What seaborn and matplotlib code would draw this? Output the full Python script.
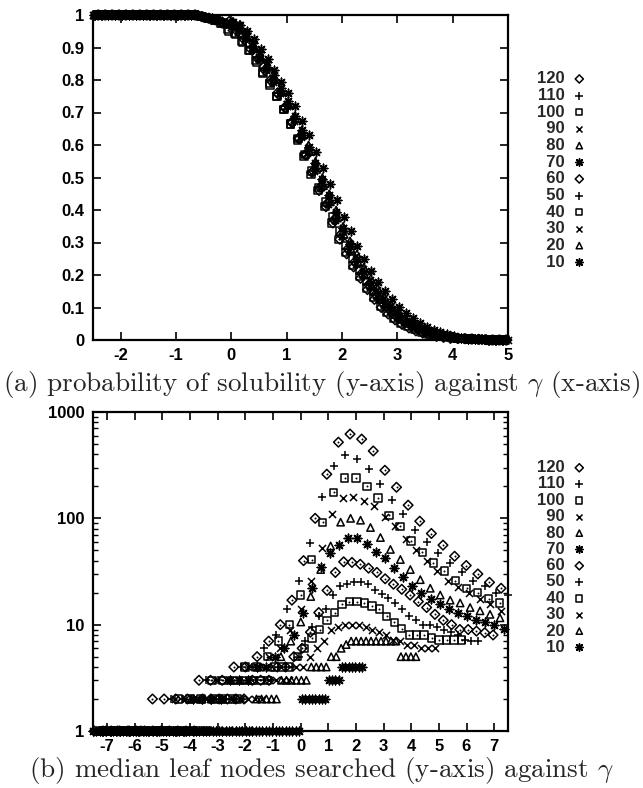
import numpy as np
import pandas as pd
import matplotlib
matplotlib.use("Agg")
import matplotlib.pyplot as plt
from matplotlib.ticker import FixedLocator, FixedFormatter, LogLocator, NullFormatter
import seaborn as sns

sns.set_style("ticks")
plt.rcParams['font.family'] = ['Liberation Sans', 'DejaVu Sans']
plt.rcParams['mathtext.fontset'] = 'cm'
plt.rcParams['axes.unicode_minus'] = False
plt.rcParams['axes.edgecolor'] = 'black'
plt.rcParams['xtick.color'] = 'black'
plt.rcParams['ytick.color'] = 'black'

# ---------------- data ----------------
sizes = [120, 110, 100, 90, 80, 70, 60, 50, 40, 30, 20, 10]
size_labels = ["120", "110", "100", "\u200790", "\u200780", "\u200770", "\u200760",
               "\u200750", "\u200740", "\u200730", "\u200720", "\u200710"]

# (a) probability of solubility; gamma grid starts at -2.5 (+ small per-series shift), step 0.125
sol_step = 0.125
sol_shift = [-0.04, 0.02, -0.06, 0.0, 0.04, 0.02, -0.02, 0.03, -0.05, 0.01, 0.02, 0.03]
sol_head = [1.0] * 16 + [0.995, 0.99, 0.985, 0.975]          # gamma -2.5 .. -0.125
sol_tail = [0.005, 0.004, 0.003, 0.002, 0.001, 0.0, 0.0, 0.0]  # gamma 4.125 .. 5.0
sol_120 = [0.98, 0.965, 0.94, 0.91, 0.875, 0.84, 0.80, 0.76, 0.715, 0.67, 0.62, 0.57, 0.515, 0.46, 0.41, 0.36, 0.31, 0.265, 0.225, 0.19, 0.155, 0.125, 0.10, 0.08, 0.062, 0.048, 0.037, 0.028, 0.021, 0.015, 0.011, 0.008, 0.005]
sol_110 = [0.975, 0.96, 0.935, 0.905, 0.87, 0.835, 0.795, 0.755, 0.715, 0.67, 0.62, 0.57, 0.52, 0.465, 0.415, 0.365, 0.315, 0.27, 0.23, 0.195, 0.16, 0.13, 0.105, 0.085, 0.066, 0.051, 0.04, 0.031, 0.023, 0.017, 0.012, 0.009, 0.006]
sol_100 = [0.955, 0.945, 0.92, 0.89, 0.86, 0.825, 0.79, 0.75, 0.71, 0.665, 0.615, 0.565, 0.51, 0.46, 0.41, 0.36, 0.31, 0.27, 0.23, 0.195, 0.16, 0.13, 0.105, 0.085, 0.066, 0.052, 0.041, 0.032, 0.024, 0.018, 0.013, 0.01, 0.007]
sol_90 = [0.97, 0.955, 0.93, 0.90, 0.87, 0.835, 0.80, 0.76, 0.72, 0.675, 0.625, 0.575, 0.52, 0.47, 0.42, 0.37, 0.32, 0.275, 0.235, 0.20, 0.165, 0.135, 0.11, 0.09, 0.07, 0.055, 0.044, 0.034, 0.026, 0.02, 0.015, 0.011, 0.008]
sol_80 = [0.975, 0.955, 0.935, 0.905, 0.87, 0.84, 0.80, 0.765, 0.725, 0.68, 0.63, 0.58, 0.525, 0.475, 0.425, 0.375, 0.325, 0.28, 0.24, 0.2, 0.165, 0.135, 0.11, 0.09, 0.071, 0.056, 0.045, 0.035, 0.027, 0.02, 0.015, 0.011, 0.008]
sol_70 = [0.98, 0.97, 0.945, 0.915, 0.885, 0.855, 0.815, 0.775, 0.735, 0.69, 0.645, 0.595, 0.545, 0.495, 0.445, 0.395, 0.345, 0.295, 0.25, 0.21, 0.175, 0.145, 0.117, 0.095, 0.076, 0.06, 0.047, 0.037, 0.028, 0.021, 0.016, 0.012, 0.009]
sol_60 = [0.97, 0.95, 0.925, 0.895, 0.865, 0.83, 0.795, 0.755, 0.715, 0.67, 0.62, 0.57, 0.52, 0.47, 0.42, 0.37, 0.325, 0.28, 0.24, 0.205, 0.17, 0.14, 0.115, 0.093, 0.074, 0.058, 0.046, 0.036, 0.028, 0.021, 0.016, 0.012, 0.009]
sol_50 = [0.965, 0.95, 0.925, 0.895, 0.86, 0.83, 0.79, 0.755, 0.715, 0.67, 0.625, 0.575, 0.525, 0.475, 0.425, 0.375, 0.33, 0.285, 0.245, 0.21, 0.175, 0.145, 0.12, 0.097, 0.078, 0.062, 0.049, 0.038, 0.03, 0.023, 0.017, 0.013, 0.009]
sol_40 = [0.95, 0.94, 0.915, 0.89, 0.855, 0.82, 0.785, 0.75, 0.71, 0.665, 0.62, 0.57, 0.52, 0.47, 0.425, 0.38, 0.335, 0.29, 0.25, 0.215, 0.18, 0.15, 0.125, 0.1, 0.08, 0.064, 0.05, 0.04, 0.031, 0.024, 0.018, 0.013, 0.01]
sol_30 = [0.965, 0.95, 0.925, 0.895, 0.865, 0.83, 0.795, 0.76, 0.72, 0.68, 0.635, 0.59, 0.54, 0.49, 0.44, 0.39, 0.345, 0.3, 0.26, 0.22, 0.185, 0.155, 0.128, 0.104, 0.084, 0.067, 0.053, 0.042, 0.032, 0.025, 0.019, 0.014, 0.01]
sol_20 = [0.97, 0.955, 0.93, 0.9, 0.87, 0.84, 0.805, 0.77, 0.73, 0.69, 0.645, 0.6, 0.55, 0.5, 0.45, 0.4, 0.35, 0.305, 0.265, 0.225, 0.19, 0.16, 0.132, 0.108, 0.088, 0.07, 0.056, 0.044, 0.034, 0.026, 0.02, 0.015, 0.011]
sol_10 = [0.98, 0.97, 0.95, 0.925, 0.895, 0.865, 0.83, 0.795, 0.76, 0.72, 0.675, 0.63, 0.58, 0.53, 0.48, 0.43, 0.38, 0.335, 0.29, 0.25, 0.213, 0.18, 0.15, 0.125, 0.102, 0.083, 0.067, 0.053, 0.041, 0.032, 0.024, 0.018, 0.013]
sol_mid = [sol_120, sol_110, sol_100, sol_90, sol_80, sol_70, sol_60, sol_50, sol_40, sol_30, sol_20, sol_10]

# (b) median leaf nodes; each series on its own gamma grid (start, step)
leaf_start = [-7.45, -7.2, -7.2, -7.21, -7.19, -7.18, -7.14, -7.07, -7.14, -7.4, -7.35, -7.5]
leaf_step = [0.42, 0.42, 0.40, 0.38, 0.36, 0.33, 0.30, 0.25, 0.27, 0.25, 0.18, 0.12]
leaf_120 = [1] * 5 + [2] * 4 + [3] * 3 + [4] * 2 + [5, 7, 10, 17, 40, 100, 260, 520, 620, 556, 430, 283, 196, 133, 94, 72, 56, 44, 36, 30, 25, 22]
leaf_110 = [1] * 6 + [2] * 3 + [3] * 3 + [4] * 2 + [6, 8, 14, 26, 59, 160, 310, 390, 360, 290, 210, 150, 110, 78, 60, 47, 38, 31, 26, 23, 20, 19]
leaf_100 = [1] * 7 + [2] * 3 + [3] * 3 + [4] * 2 + [5, 7, 10, 19, 41, 92, 176, 240, 240, 200, 155, 107, 84, 61, 48, 38, 32, 26, 22, 20, 17.6, 16]
leaf_90 = [1] * 7 + [2] * 4 + [3] * 3 + [4] * 2 + [5, 6, 9, 14, 26, 53, 109, 155, 160, 145, 130, 104, 85, 64, 50, 40, 32, 26, 22.5, 20, 17.5, 15.5, 13.3]
leaf_80 = [1] * 9 + [2] * 4 + [3] * 3 + [4] * 2 + [5, 7, 10.6, 18.4, 33, 55, 92, 100, 96, 82, 66, 51, 41, 33, 26.5, 22, 19, 17, 16, 14.5, 13.5, 12.5, 11.6]
leaf_70 = [1] * 10 + [2] * 4 + [3] * 3 + [4] * 2 + [5, 6, 8, 13, 22, 35, 47, 56, 66, 65, 57, 48, 42, 34, 28, 23, 20, 17.5, 15.5, 14, 12.8, 12, 11, 10.5, 10, 9.2]
leaf_60 = [1] * 12 + [2] * 6 + [3] * 3 + [4] * 2 + [5, 6, 8.5, 13, 21, 31, 39, 38.5, 37, 34, 31, 27, 24, 21.5, 19, 16.5, 14.5, 12.5, 11, 10, 9, 9, 8.7, 8.4, 8]
leaf_50 = [1] * 16 + [2] * 5 + [3] * 4 + [4] * 3 + [5, 7, 9.5, 12, 14, 19, 23, 24, 25, 25, 24, 21, 19.5, 18, 16, 14, 12, 11, 10, 10, 9.6, 9, 8.5, 8, 7.2, 7, 7]
leaf_40 = [1] * 15 + [2] * 4 + [3] * 4 + [4] * 3 + [5, 6, 7.5, 9, 11, 13, 15.5, 16.5, 16.5, 16, 15, 14, 12, 10.5, 9.2, 8, 8, 8, 7.5, 7.2, 7.2, 7.2, 7.2]
leaf_30 = [1] * 20 + [2] * 5 + [3] * 4 + [4, 4, 5, 6, 7, 9, 9.6, 10, 10, 10, 9.6, 9, 8.5, 8, 7.2, 7, 6.5, 6.5, 6, 6, 6]
leaf_20 = [1] * 32 + [2] * 5 + [3] * 6 + [4] * 4 + [5] * 2 + [6, 6.5] + [7] * 10 + [5] * 4
leaf_10 = [1] * 63 + [2] * 8 + [3] * 4 + [4] * 7
leaf_vals = [leaf_120, leaf_110, leaf_100, leaf_90, leaf_80, leaf_70, leaf_60, leaf_50, leaf_40, leaf_30, leaf_20, leaf_10]

sol_xticks = [-2, -1, 0, 1, 2, 3, 4, 5]
sol_yticks = [0, 0.1, 0.2, 0.3, 0.4, 0.5, 0.6, 0.7, 0.8, 0.9, 1]
sol_yticklabels = ["0", "0.1", "0.2", "0.3", "0.4", "0.5", "0.6", "0.7", "0.8", "0.9", "1"]
leaf_xticks = [-7, -6, -5, -4, -3, -2, -1, 0, 1, 2, 3, 4, 5, 6, 7]
leaf_yticks = [1, 10, 100, 1000]
leaf_yticklabels = ["1", "10", "100", "1000"]

caption_a = "(a) probability of solubility (y-axis) against $\\gamma$ (x-axis)"
caption_b = "(b) median leaf nodes searched (y-axis) against $\\gamma$"

# ---------------- styles ----------------
marker_cycle = ['D', '+', 's', 'x', '^', (8, 2, 0)] * 2
marker_size = {'D': 24, '+': 38, 's': 28, 'x': 26, '^': 28}
dotted = {'D', 's'}

W, H = 643, 788
fig = plt.figure(figsize=(W / 100, H / 100), dpi=100)
ax1 = fig.add_axes([93 / W, 1 - 340 / H, (508 - 93) / W, (340 - 15) / H])
ax2 = fig.add_axes([93 / W, 1 - 731 / H, (508 - 93) / W, (731 - 412) / H])


def draw_series(ax, gx, gy, mk, lab):
    m = mk if isinstance(mk, str) else 'star'
    s = marker_size.get(m, 38)
    if isinstance(mk, str) and mk in ('D', 's', '^'):
        sns.scatterplot(x=gx, y=gy, marker=mk, s=s, facecolors='none', edgecolor='black',
                        linewidth=1.1, ax=ax, label=lab, clip_on=False, zorder=3)
        if mk in dotted:
            sns.scatterplot(x=gx, y=gy, marker='o', s=2, color='black', linewidth=0,
                            ax=ax, legend=False, clip_on=False, zorder=4)
    else:
        sns.scatterplot(x=gx, y=gy, marker=mk, s=s, color='black', linewidth=1.1,
                        ax=ax, label=lab, clip_on=False, zorder=3)


# (a)
for i, lab in enumerate(size_labels):
    vals = np.array(sol_head + sol_mid[i] + sol_tail, dtype=float)
    g = -2.5 + sol_shift[i] + sol_step * np.arange(len(vals))
    keep = (g >= -2.5) & (g <= 5.0)
    draw_series(ax1, g[keep], vals[keep], marker_cycle[i], lab)

# (b)
for i, lab in enumerate(size_labels):
    vals = np.array(leaf_vals[i], dtype=float)
    g = leaf_start[i] + leaf_step[i] * np.arange(len(vals))
    keep = (g >= -7.5) & (g <= 7.5)
    draw_series(ax2, g[keep], vals[keep], marker_cycle[i], lab)

ax1.set_xlim(-2.5, 5.0)
ax1.set_ylim(0, 1)
ax1.xaxis.set_major_locator(FixedLocator(sol_xticks))
ax1.set_xticklabels([str(t) for t in sol_xticks])
ax1.yaxis.set_major_locator(FixedLocator(sol_yticks))
ax1.yaxis.set_major_formatter(FixedFormatter(sol_yticklabels))

ax2.set_yscale('log')
ax2.set_xlim(-7.5, 7.5)
ax2.set_ylim(1, 1000)
ax2.xaxis.set_major_locator(FixedLocator(leaf_xticks))
ax2.set_xticklabels([str(t) for t in leaf_xticks])
ax2.yaxis.set_major_locator(FixedLocator(leaf_yticks))
ax2.yaxis.set_major_formatter(FixedFormatter(leaf_yticklabels))
ax2.yaxis.set_minor_locator(LogLocator(base=10, subs=np.arange(2, 10)))
ax2.yaxis.set_minor_formatter(NullFormatter())

for ax in (ax1, ax2):
    ax.set_xlabel('')
    ax.set_ylabel('')
    for sp in ax.spines.values():
        sp.set_linewidth(1.6)
        sp.set_color('black')
        sp.set_visible(True)
    ax.tick_params(which='major', direction='in', top=True, right=True, length=6, width=1.2,
                   labelsize=12, pad=6)
    ax.tick_params(which='minor', direction='in', left=True, right=True, length=3.5, width=1.0)
    for t in ax.get_xticklabels() + ax.get_yticklabels():
        t.set_fontweight('bold')

for ax, cy, sp in ((ax1, 170.5, 0.10), (ax2, 557.5, 0.08)):
    handles, labels = ax.get_legend_handles_labels()
    ax.legend(handles, labels, markerfirst=False, frameon=False, loc='center left',
              bbox_to_anchor=(530 / W, 1 - cy / H), bbox_transform=fig.transFigure,
              prop={'weight': 'bold', 'size': 12}, labelspacing=sp, markerscale=0.85,
              handletextpad=0.4, handlelength=1.0, borderaxespad=0)

fig.text(0.5, 1 - 385 / H, caption_a, ha='center', va='center', fontfamily='cmr10', fontsize=19.5)
fig.text(0.5, 1 - 771 / H, caption_b, ha='center', va='center', fontfamily='cmr10', fontsize=19.5)

fig.savefig('out.png', dpi=100, facecolor='white')
